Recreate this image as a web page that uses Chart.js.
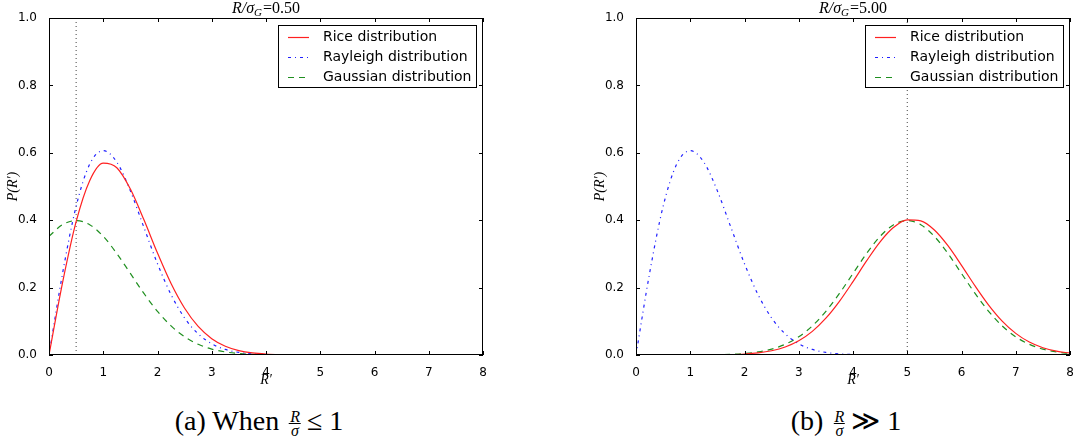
<!DOCTYPE html>
<html>
<head>
<meta charset="utf-8">
<script src="https://cdn.jsdelivr.net/npm/chart.js@4.4.1/dist/chart.umd.min.js"></script>
<style>
  body { margin: 0; background: #fff; width: 1073px; height: 440px; overflow: hidden; position: relative; font-family: "Liberation Serif", serif; }
  canvas { position: absolute; top: 0; }
  #chartA { left: 0; }
  #chartB { left: 540px; }
  .cap { position: absolute; top: 405px; transform: translateX(-50%); font-size: 28px; line-height: 32px; white-space: nowrap; color: #000; }
  .frac { display: inline-block; vertical-align: middle; text-align: center; font-style: italic; font-size: 16px; line-height: 13px; margin: 0 6px 0 3px; }
  .frac span { display: block; padding: 0 1px; }
  .frac .num { border-bottom: 1px solid #000; }
</style>
</head>
<body>
<canvas id="chartA" width="536" height="400"></canvas>
<canvas id="chartB" width="540" height="400"></canvas>
<div class="cap" style="left:259px">(a) When <span class="frac"><span class="num">R</span><span>σ</span></span>≤ 1</div>
<div class="cap" style="left:846px">(b) <span class="frac"><span class="num">R</span><span>σ</span></span>≫ 1</div>
<script>
// R' sample positions (step 0.25)
const xs = [0, 0.25, 0.5, 0.75, 1, 1.25, 1.5, 1.75, 2, 2.25, 2.5, 2.75, 3, 3.25, 3.5, 3.75,
  4, 4.25, 4.5, 4.75, 5, 5.25, 5.5, 5.75, 6, 6.25, 6.5, 6.75, 7, 7.25, 7.5, 7.75, 8];

const seriesNames = ['Rice distribution', 'Rayleigh distribution', 'Gaussian distribution'];
const panelTitles = ['0.50', '5.00'];
const xTicks = [0, 1, 2, 3, 4, 5, 6, 7, 8];
const yTicks = [0, 0.2, 0.4, 0.6, 0.8, 1.0];

// panel (a): R/sigma = 0.5
const riceA = [0, 0.2147, 0.3955, 0.5173, 0.5692, 0.5556, 0.4924, 0.4011, 0.3024, 0.2120, 0.1386,
  0.0847, 0.0484, 0.0259, 0.0130, 0.0061, 0.0027, 0.0011, 0.0004, 0.0001, 0];
const rayleighA = [0, 0.2423, 0.4412, 0.5661, 0.6065, 0.5723, 0.4870, 0.3785, 0.2707, 0.1790,
  0.1098, 0.0627, 0.0333, 0.0165, 0.0077, 0.0033, 0.0013];
const gaussA = [0.3521, 0.3867, 0.3989, 0.3867, 0.3521, 0.3011, 0.2420, 0.1826, 0.1295, 0.0863,
  0.0540, 0.0317, 0.0175, 0.0091, 0.0044, 0.0020, 0.0009, 0.0004, 0.0001];
const vlineA = 0.5;

// panel (b): R/sigma = 5
const riceB = [0, 0, 0, 0.00002, 0.00006, 0.00018, 0.00049, 0.00122, 0.00284, 0.00617, 0.01253,
  0.02376, 0.04218, 0.07012, 0.10917, 0.15927, 0.21782, 0.27931, 0.33591, 0.37893, 0.40098,
  0.39815, 0.37094, 0.32436, 0.26617, 0.20504, 0.14825, 0.10063, 0.06411, 0.03836, 0.02154,
  0.01136, 0.00562];
const rayleighB = [0, 0.2423, 0.4412, 0.5661, 0.6065, 0.5723, 0.4870, 0.3785, 0.2707, 0.1790,
  0.1098, 0.0627, 0.0333, 0.0165, 0.0077, 0.0033, 0.0013];
const gaussB = [0, 0.00001, 0.00002, 0.00005, 0.00013, 0.00035, 0.00087, 0.00203, 0.00443, 0.00909,
  0.01753, 0.03174, 0.05399, 0.08628, 0.12952, 0.18265, 0.24197, 0.30114, 0.35207, 0.38667,
  0.39894, 0.38667, 0.35207, 0.30114, 0.24197, 0.18265, 0.12952, 0.08628, 0.05399, 0.03174,
  0.01753, 0.00909, 0.00443];
const vlineB = 5;

const colors = ['#ff2020', '#2020ff', '#1f8f1f'];
const dashes = [[], [3, 4, 1, 4], [6, 5]];

function pts(arr) {
  return arr.map((y, i) => ({ x: xs[i], y }));
}

// frame, inward ticks, boxed legend inside the axes, math title
const framePlugin = {
  id: 'frame',
  afterDatasetsDraw(chart) {
    const { ctx, chartArea: a, scales: { x, y } } = chart;
    ctx.save();
    ctx.strokeStyle = '#000';
    ctx.lineWidth = 1;
    ctx.strokeRect(a.left + 0.5, a.top + 0.5, a.right - a.left - 1, a.bottom - a.top - 1);
    ctx.beginPath();
    xTicks.forEach(v => {
      const px = Math.round(x.getPixelForValue(v)) + 0.5;
      ctx.moveTo(px, a.bottom); ctx.lineTo(px, a.bottom - 4);
      ctx.moveTo(px, a.top); ctx.lineTo(px, a.top + 4);
    });
    yTicks.forEach(v => {
      const py = Math.round(y.getPixelForValue(v)) + 0.5;
      ctx.moveTo(a.left, py); ctx.lineTo(a.left + 4, py);
      ctx.moveTo(a.right, py); ctx.lineTo(a.right - 4, py);
    });
    ctx.stroke();

    // legend box
    const w = 198, h = 62;
    const lx = a.right - 7 - w, ly = a.top + 7;
    ctx.fillStyle = '#fff';
    ctx.fillRect(lx, ly, w, h);
    ctx.strokeRect(lx + 0.5, ly + 0.5, w, h);
    ctx.font = '14px "DejaVu Sans"';
    ctx.textBaseline = 'middle';
    seriesNames.forEach((name, i) => {
      const ry = ly + 12 + i * 20 + 0.5;
      ctx.strokeStyle = colors[i];
      ctx.setLineDash(dashes[i]);
      ctx.lineWidth = 1.2;
      ctx.beginPath(); ctx.moveTo(lx + 10, ry); ctx.lineTo(lx + 31, ry); ctx.stroke();
      ctx.setLineDash([]);
      ctx.fillStyle = '#000';
      ctx.fillText(name, lx + 45, ry);
    });
    ctx.restore();
  },
  afterDraw(chart, args, opts) {
    const { ctx, chartArea: a } = chart;
    ctx.save();
    ctx.fillStyle = '#000';
    ctx.textBaseline = 'alphabetic';
    const f1 = 'italic 16px "Liberation Serif"', f2 = 'italic 11px "Liberation Serif"', f3 = '16px "Liberation Serif"';
    const s1 = 'R/σ', s2 = 'G', s3 = '=' + opts.text;
    ctx.font = f1; const w1 = ctx.measureText(s1).width;
    ctx.font = f2; const w2 = ctx.measureText(s2).width;
    ctx.font = f3; const w3 = ctx.measureText(s3).width;
    let tx = (a.left + a.right) / 2 - (w1 + w2 + w3 + 1) / 2;
    const by = a.top - 5;
    ctx.font = f1; ctx.fillText(s1, tx, by); tx += w1;
    ctx.font = f2; ctx.fillText(s2, tx, by + 3); tx += w2 + 1;
    ctx.font = f3; ctx.fillText(s3, tx, by);
    ctx.restore();
  }
};

function makeChart(id, rice, ray, gauss, vline, title, padLeft, padRight) {
  const series = [rice, ray, gauss];
  const datasets = series.map((arr, i) => ({
    label: seriesNames[i],
    data: pts(arr),
    borderColor: colors[i],
    borderDash: dashes[i],
    borderWidth: 1.2,
    cubicInterpolationMode: 'monotone',
    fill: false
  }));
  datasets.push({
    label: 'ref',
    data: [{ x: vline, y: 0 }, { x: vline, y: 1 }],
    borderColor: '#444',
    borderDash: [1, 3],
    borderWidth: 1,
    fill: false
  });
  return new Chart(document.getElementById(id), {
    type: 'line',
    data: { datasets },
    options: {
      responsive: false,
      animation: false,
      layout: { padding: { left: padLeft, right: padRight, top: 18, bottom: 0 } },
      elements: { point: { radius: 0 } },
      plugins: { legend: { display: false }, tooltip: { enabled: false }, frame: { text: title } },
      scales: {
        x: {
          type: 'linear', min: 0, max: 8,
          grid: { display: false }, border: { display: false },
          afterBuildTicks: s => { s.ticks = xTicks.map(v => ({ value: v })); },
          ticks: { padding: 3, color: '#000', maxRotation: 0, font: { family: 'DejaVu Sans', size: 12 } },
          title: { display: true, text: 'R′', color: '#000', font: { family: 'Liberation Serif', style: 'italic', size: 14 }, padding: { top: 0, bottom: 11 } },
          afterFit: s => { s.height = 45; }
        },
        y: {
          min: 0, max: 1,
          grid: { display: false }, border: { display: false },
          afterBuildTicks: s => { s.ticks = yTicks.map(v => ({ value: v })); },
          ticks: { padding: 4, color: '#000', font: { family: 'DejaVu Sans', size: 12 }, callback: v => v.toFixed(1) },
          title: { display: true, text: 'P(R′)', color: '#000', font: { family: 'Liberation Serif', style: 'italic', size: 14 }, padding: { top: 5, bottom: 0 } },
          afterFit: s => { s.width = 49; }
        }
      }
    },
    plugins: [framePlugin]
  });
}

makeChart('chartA', riceA, rayleighA, gaussA, vlineA, panelTitles[0], 0, 53);
makeChart('chartB', riceB, rayleighB, gaussB, vlineB, panelTitles[1], 47, 10);
</script>
</body>
</html>
